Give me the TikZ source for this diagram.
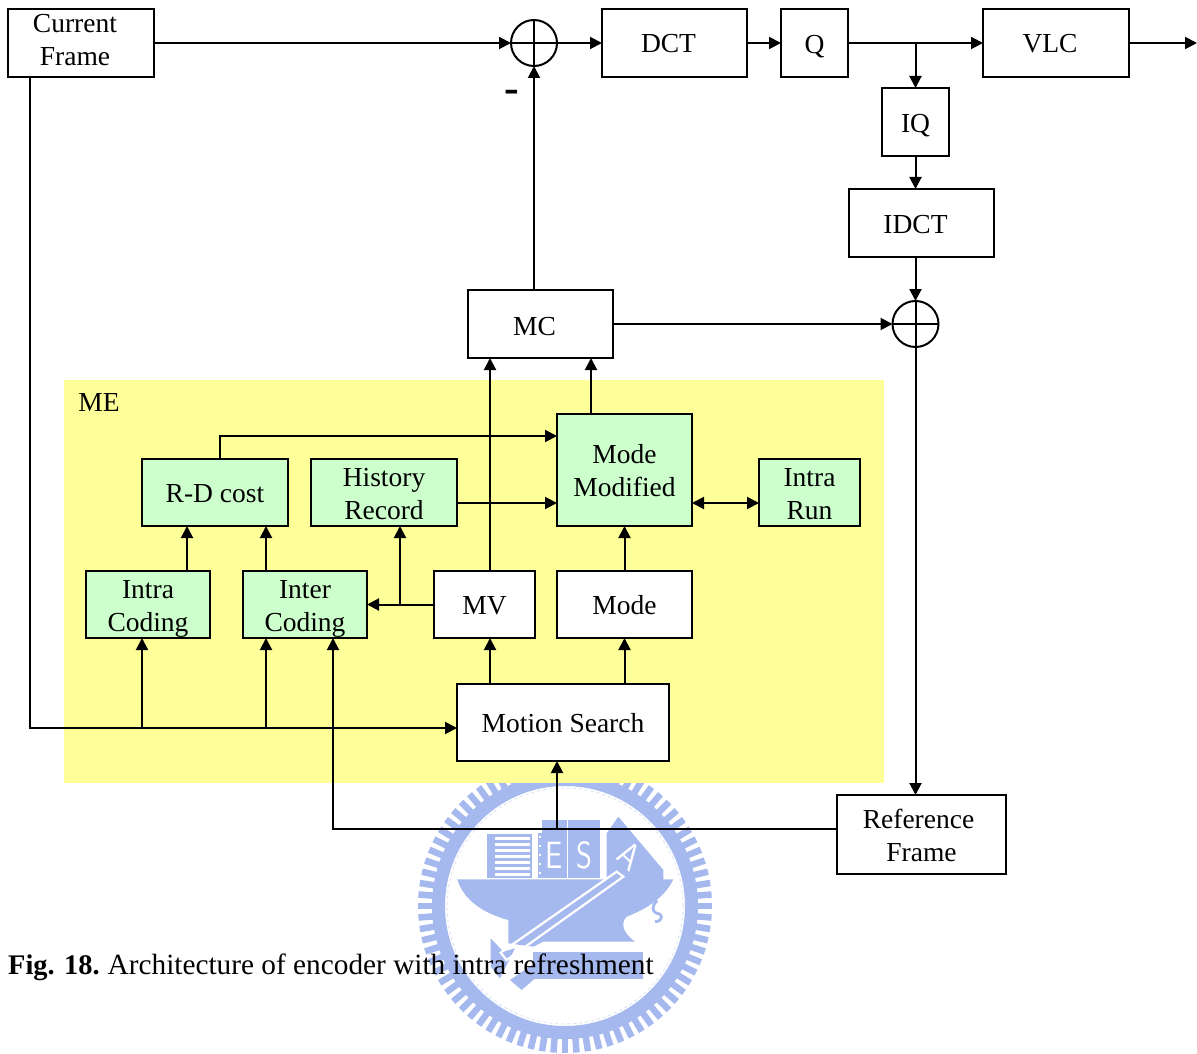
\documentclass[tikz,border=0pt]{standalone}
\usepackage{fontspec}
\setmainfont{Liberation Serif}
\usetikzlibrary{arrows.meta,calc}
\definecolor{meyellow}{HTML}{FFFF99}
\definecolor{megreen}{HTML}{CCFFCC}
\definecolor{wmblue}{HTML}{A5B9EE}
\definecolor{wmpale}{HTML}{DDE4F8}
\newcommand\lft[1]{\mbox{#1\kern12pt}}
\newcommand\dn[2]{\raisebox{#1pt}[\height][\depth]{#2}}
\tikzset{
  every node/.style={font=\fontsize{27.5}{33}\selectfont},
  blk/.style={draw=black,line width=2pt,fill=white,outer sep=0pt,inner sep=0pt,align=center},
  grn/.style={blk,fill=megreen},
  sumc/.style={draw=black,line width=2pt,circle,minimum size=46pt,inner sep=0pt,outer sep=0pt},
  arr/.style={line width=2pt,-{Triangle[length=12pt,width=12pt]}},
  darr/.style={line width=2pt,{Triangle[length=12pt,width=12pt]}-{Triangle[length=12pt,width=12pt]}},
  wire/.style={line width=2pt},
  wm/.style={fill=wmblue,draw=none},
  wmtext/.style={text=white,xscale=.8,font=\fontsize{38}{38}\selectfont\sffamily}
}
\begin{document}
\begin{tikzpicture}[x=1pt,y=-1pt]
\useasboundingbox (0,0) rectangle (1197,1054);
% watermark
\coordinate (wc) at (565,906);
\foreach \a in {0,4.5,...,356}{
  \draw[wmblue,line width=6.5pt] ($(wc)+(\a:147)$) -- ($(wc)+(\a:130)$);
}
\draw[wmblue,line width=13pt] (wc) circle (126.5);
\draw[wmpale,line width=1pt,dashed] (wc) circle (118);
\begin{scope}[shift={(400,770)},x=.33333pt,y=-.33333pt]
  \fill[wm] (262,192) rectangle (395,325);
  \foreach \yy in {200,218,236,254,272,290,308}{
    \fill[white] (285,\yy) rectangle (390,\yy+9);
  }
  \fill[wm] (415,190) rectangle (500,325);
  \fill[wm] (425,150) rectangle (500,190);
  \fill[wm] (505,150) rectangle (600,325);
  \fill[wm] (655,140) -- (620,190) -- (620,330) -- (790,330) -- (790,300) -- cycle;
  \fill[wm] (172,328) -- (820,328) .. controls (790,390) and (730,420) .. (680,440)
     .. controls (660,460) and (670,490) .. (705,515) -- (430,515) -- (400,530) -- (325,520) -- (325,450)
     .. controls (250,430) and (190,390) .. (172,328) -- cycle;
  \fill[wm] (400,545) rectangle (728,628);
  \fill[wm] (272,505) -- (310,545) -- (345,535) -- (300,625) -- (272,590) -- cycle;
  \fill[wm] (330,630) -- (455,545) -- (480,560) -- (365,660) -- cycle;
  \draw[white,line width=2.2pt] (650,305) -- (670,320) -- (320,570) -- (302,548) -- cycle;
  \draw[wmblue,line width=2.8pt] (772,392) .. controls (755,405) and (755,425) .. (770,430)
     .. controls (790,430) and (790,455) .. (765,455);
  \foreach \yy in {198,225,252,279,306}{
    \fill[white] (416,\yy) rectangle (423,\yy+6);
  }
  \node[wmtext] (wme) at (463,255) {E};
  \node[wmtext] (wms) at (552,255) {S};
  \node[wmtext,rotate=-38] (wma) at (687,255) {A};
\end{scope}
% ME region
\fill[meyellow] (64,380) rectangle (884,783);
\node[anchor=center] (melabel) at (99,402) {ME};
% boxes
\node[blk,minimum width=146pt,minimum height=68pt] (cur) at (81,43) {\dn{3}{\lft{Current}}\\\dn{3}{\lft{Frame}}};
\node[blk,minimum width=145pt,minimum height=68pt] (dct) at (674.5,43) {\dn{-1}{\lft{DCT}}};
\node[blk,minimum width=67pt,minimum height=68pt] (q) at (814.5,43) {\dn{-4}{Q}};
\node[blk,minimum width=146pt,minimum height=68pt] (vlc) at (1056,43) {\dn{-1}{\lft{VLC}}};
\node[blk,minimum width=67pt,minimum height=68pt] (iq) at (915.5,122) {\dn{-4}{IQ}};
\node[blk,minimum width=145pt,minimum height=68pt] (idct) at (921.5,223) {\dn{-2}{\lft{IDCT}}};
\node[blk,minimum width=145pt,minimum height=68pt] (mc) at (540.5,324) {\dn{-3}{\lft{MC}}};
\node[sumc] (s1) at (534,43) {};
\node[sumc] (s2) at (915.5,324) {};
\draw[line width=2pt] (s1.north) -- (s1.south) (s1.west) -- (s1.east);
\draw[line width=2pt] (s2.north) -- (s2.south) (s2.west) -- (s2.east);
\node[grn,minimum width=135pt,minimum height=112pt] (mm) at (624.5,470) {\dn{-1}{Mode}\\\dn{-1}{Modified}};
\node[grn,minimum width=146pt,minimum height=67pt] (rd) at (215,492.5) {\dn{-1}{R-D cost}};
\node[grn,minimum width=146pt,minimum height=67pt] (hist) at (384,492.5) {\dn{-2}{History}\\\dn{-2}{Record}};
\node[grn,minimum width=101pt,minimum height=67pt] (irun) at (809.5,492.5) {\dn{-2}{Intra}\\\dn{-2}{Run}};
\node[grn,minimum width=124pt,minimum height=67pt] (icod) at (148,604.5) {\dn{-4}{Intra}\\\dn{-4}{Coding}};
\node[grn,minimum width=124pt,minimum height=67pt] (pcod) at (305,604.5) {\dn{-4}{Inter}\\\dn{-4}{Coding}};
\node[blk,minimum width=101pt,minimum height=67pt] (mv) at (484.5,604.5) {\dn{-1}{MV}};
\node[blk,minimum width=135pt,minimum height=67pt] (mode) at (624.5,604.5) {\dn{-1}{Mode}};
\node[blk,minimum width=212pt,minimum height=77pt] (ms) at (563,722.5) {\dn{-1}{Motion Search}};
\node[blk,minimum width=169pt,minimum height=79pt] (ref) at (921.5,834.5) {\dn{-1}{\mbox{Reference\kern6pt}}\\\dn{-1}{Frame}};
% labels
\node[font=\fontsize{44}{44}\selectfont\bfseries] (minus) at (512,96) {-};
\node[anchor=base west,inner sep=0pt] (cap) at (8,974) {{\fontsize{28.4}{33}\selectfont\bfseries Fig. 18.}\hspace{8pt}{\fontsize{29.3}{33}\selectfont Architecture of encoder with intra refreshment}};
% helper coordinates
\coordinate (out) at (1197,43);
\coordinate (jq) at (915.5,43);
\coordinate (x30) at (30,0);
\coordinate (y728) at (0,728);
\coordinate (jcorner) at (30,728);
\coordinate (j142) at (142,728);
\coordinate (j266) at (266,728);
\coordinate (y829) at (0,829);
\coordinate (jr1) at (333,829);
\coordinate (jr2) at (557,829);
\coordinate (x187) at (187,0);
\coordinate (x266) at (266,0);
\coordinate (x220) at (220,0);
\coordinate (y436) at (0,436);
\coordinate (x400) at (400,0);
\coordinate (j400) at (400,604.5);
\coordinate (x490) at (490,0);
\coordinate (x591) at (591,0);
\coordinate (x624) at (624.5,0);
\coordinate (y503) at (0,503);
% connectors
\draw[arr] (cur.east) -- (s1.west);
\draw[arr] (s1.east) -- (dct.west);
\draw[arr] (dct.east) -- (q.west);
\draw[arr] (q.east) -- (vlc.west);
\draw[arr] (vlc.east) -- (out);
\draw[arr] (jq) -- (iq.north);
\draw[arr] (iq.south) -- (iq.south |- idct.north);
\draw[arr] (s2.north |- idct.south) -- (s2.north);
\draw[arr] (s2.south) -- (s2.south |- ref.north);
\draw[arr] (mc.east) -- (s2.west);
\draw[arr] (s1.south |- mc.north) -- (s1.south);
\draw[wire,line cap=rect] (cur.south -| x30) -- (jcorner);
\draw[arr] (jcorner) -- (ms.west |- y728);
\draw[arr] (j142) -- (j142 |- icod.south);
\draw[arr] (j266) -- (j266 |- pcod.south);
\draw[arr] (ref.west |- y829) -- (jr1) -- (jr1 |- pcod.south);
\draw[arr] (jr2) -- (jr2 |- ms.south);
\draw[arr] (ms.north -| x490) -- (mv.south -| x490);
\draw[arr] (ms.north -| x624) -- (mode.south -| x624);
\draw[arr] (mode.north -| x624) -- (mm.south -| x624);
\draw[arr] (mv.north -| x490) -- (mc.south -| x490);
\draw[arr] (mm.north -| x591) -- (mc.south -| x591);
\draw[arr] (rd.north -| x220) -- (x220 |- y436) -- (mm.west |- y436);
\draw[arr] (hist.east |- y503) -- (mm.west |- y503);
\draw[darr] (mm.east |- y503) -- (irun.west |- y503);
\draw[arr] (mv.west) -- (pcod.east);
\draw[arr] (j400) -- (hist.south -| x400);
\draw[arr] (icod.north -| x187) -- (rd.south -| x187);
\draw[arr] (pcod.north -| x266) -- (rd.south -| x266);
\end{tikzpicture}
\end{document}
